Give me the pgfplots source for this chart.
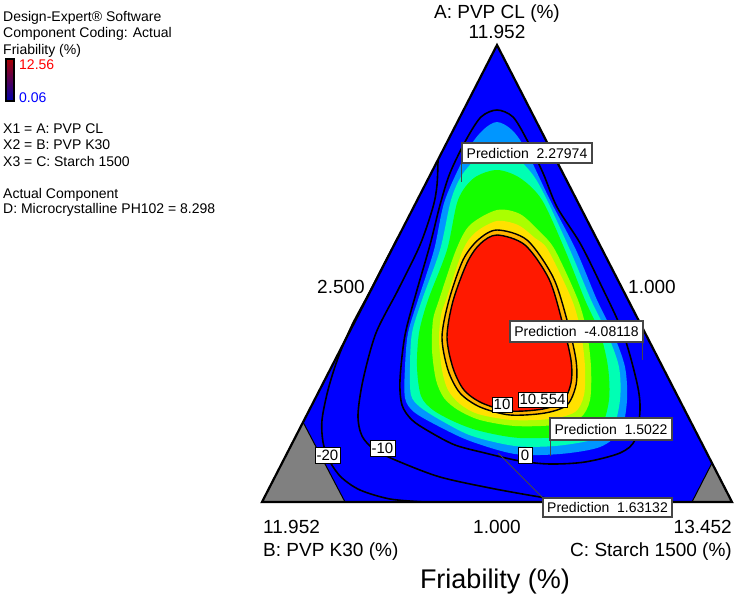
\documentclass[border=0pt]{standalone}
\usepackage{pgfplots}
\pgfplotsset{compat=1.18}
\usepackage{fontspec}
\setmainfont{Liberation Sans}

\definecolor{dxblue}{RGB}{0,0,255}
\definecolor{band1}{RGB}{0,150,255}
\definecolor{band2}{RGB}{0,255,180}
\definecolor{band3}{RGB}{20,255,0}
\definecolor{band4}{RGB}{170,255,0}
\definecolor{band5}{RGB}{255,225,0}
\definecolor{ringband}{RGB}{255,180,0}
\definecolor{core}{RGB}{255,25,0}
\definecolor{constr}{RGB}{128,128,128}
\definecolor{boxedge}{RGB}{70,70,70}
\definecolor{cbred}{RGB}{170,0,0}
\definecolor{cbgreen}{RGB}{0,200,0}
\definecolor{cbblue}{RGB}{0,0,170}

\newcommand{\sz}[1]{\fontsize{#1}{#1}\selectfont}

\begin{document}
\begin{tikzpicture}
\begin{axis}[
    width=734pt, height=597pt, scale only axis,
    xmin=0, xmax=734, ymin=0, ymax=597, y dir=reverse,
    hide axis, clip=false
]
\path (0,0) rectangle (734,597);

% design space
\addplot[fill=dxblue, draw=none] coordinates {(497,45) (732,502) (262,502)};

% colour bands, outer to inner
\addplot[fill=band1, draw=none, smooth cycle] coordinates {
    (497,122) (512,130) (526,150) (550,200) (576,250) (597,300) (613,333) (625,367)
    (627,400) (621,430) (600,447) (560,454) (515,454) (470,441) (438,426) (414,412)
    (405,398) (405,367) (408,333) (418,300) (434,250) (445,200) (468,150) (483,130)};
\addplot[fill=band2, draw=none, smooth cycle] coordinates {
    (497,148) (515,156) (533,175) (547,200) (570,250) (591,300) (607,333) (619,367)
    (620,400) (612,430) (592,440) (555,446) (515,446) (472,436) (442,421) (420,407)
    (411,395) (410,367) (412,333) (422,300) (440,250) (451,200) (462,175) (479,156)};
\addplot[fill=band3, draw=none, smooth cycle] coordinates {
    (497,170) (520,178) (542,200) (565,250) (585,300) (600,333) (608,367) (609,400)
    (600,428) (575,436) (520,438) (480,431) (455,422) (433,410) (421,396) (417,367)
    (419,333) (428,300) (447,250) (458,200) (474,178)};
\addplot[fill=band4, draw=none, smooth cycle] coordinates {
    (497,210) (520,214) (540,232) (555,250) (578,300) (587,333) (591,367) (590,400)
    (580,418) (555,425) (515,426) (480,420) (458,410) (444,398) (436,380) (432,350)
    (433,320) (439,300) (456,250) (470,225)};
\addplot[fill=band5, draw=none, smooth cycle] coordinates {
    (497,221) (518,225) (535,238) (548,250) (572,300) (581,333) (585,367) (584,395)
    (575,412) (550,419) (512,420) (478,414) (460,404) (448,390) (442,370) (439,340)
    (441,315) (446,300) (463,250) (476,232)};
% contour 10 and 10.554
\addplot[fill=ringband, draw=black, line width=1.4pt, smooth cycle] coordinates {
    (497,230) (527,240) (553,277) (567,320) (576,360) (576,385) (567,405) (545,413)
    (510,415) (480,407) (460,393) (448,370) (442,337) (449,300) (463,260) (478,240)};
\addplot[fill=core, draw=black, line width=1.4pt, smooth cycle] coordinates {
    (497,235) (525,245) (549,279) (562,321) (571,360) (571,383) (563,401) (543,409)
    (510,411) (482,403) (464,390) (453,368) (447,337) (453,301) (467,263) (480,244)};

% contour 0
\addplot[draw=black, line width=1.6pt, smooth cycle] coordinates {
    (497,110) (513,117) (527,140) (543,173) (557,207) (580,243) (600,283) (623,333)
    (637,383) (640,410) (635,440) (620,453) (585,462) (550,464) (520,461) (485,453)
    (455,445) (430,432) (412,420) (402,405) (400,380) (405,335) (417,290) (430,245)
    (440,205) (450,173) (466,140) (481,117)};
% contour -10
\addplot[draw=black, line width=1.6pt, smooth] coordinates {
    (438,160) (437,185) (433,207) (420,245) (398,290) (376,333) (363,380) (358,415)
    (362,436) (375,450) (400,462) (440,477) (490,488) (540,497) (575,502)};
% contour -20
\addplot[draw=black, line width=1.6pt, smooth] coordinates {
    (398,237) (385,262) (368,295) (352,325) (338,358) (328,390) (322,420) (323,442)
    (329,460) (341,477) (360,490) (390,499) (425,502)};

% constraint regions
\addplot[fill=constr, draw=black, line width=1pt] coordinates {(262,502) (303,422) (345,502)};
\addplot[fill=constr, draw=black, line width=1pt] coordinates {(692,502) (712,463) (732,502)};

% outline
\addplot[draw=black, line width=2.2pt, sharp cycle] coordinates {(497,45) (732,502) (262,502)};

% contour labels
\draw[fill=white, draw=black, line width=1pt] (315,447) rectangle (340,463);
\node[inner sep=0] at (327.5,455) {\sz{15}-20};
\draw[fill=white, draw=black, line width=1pt] (370,440) rectangle (395,456);
\node[inner sep=0] at (382.5,448) {\sz{15}-10};
\draw[fill=white, draw=black, line width=1pt] (518,447) rectangle (532,463);
\node[inner sep=0] at (525,455) {\sz{15}0};
\draw[fill=white, draw=black, line width=1pt] (492,397) rectangle (512,412);
\node[inner sep=0] at (502,404.5) {\sz{15}10};
\draw[fill=white, draw=black, line width=1pt] (518,392) rectangle (567,407);
\node[inner sep=0] at (542.5,399.5) {\sz{15}10.554};

% prediction flags
\draw[boxedge, line width=1pt] (461,163) -- (461,182);
\draw[fill=white, draw=boxedge, line width=2pt] (462,143) rectangle (592,163);
\node[inner sep=0] at (527,153) {\sz{14}Prediction\ \ 2.27974};

\draw[boxedge, line width=1pt] (642,342) -- (642,360);
\draw[fill=white, draw=boxedge, line width=2pt] (510,321) rectangle (643,342);
\node[inner sep=0] at (576.5,331.5) {\sz{14}Prediction\ \ -4.08118};

\draw[boxedge, line width=1pt] (550,440) -- (550,456);
\draw[fill=white, draw=boxedge, line width=2pt] (550,418) rectangle (672,440);
\node[inner sep=0] at (611,429) {\sz{14}Prediction\ \ 1.5022};

\draw[boxedge, line width=1pt] (543,498) -- (498,453);
\draw[fill=white, draw=boxedge, line width=2pt] (543,498) rectangle (672,517);
\node[inner sep=0] at (607.5,507.5) {\sz{14}Prediction\ \ 1.63132};

% vertex and axis text
\node[anchor=base, inner sep=0] at (497,19) {\sz{19}A: PVP CL (\%)};
\node[anchor=base, inner sep=0] at (497,38) {\sz{19}11.952};
\node[anchor=base, inner sep=0] at (341,293) {\sz{19}2.500};
\node[anchor=base, inner sep=0] at (652,293) {\sz{19}1.000};
\node[anchor=base west, inner sep=0] at (263,533) {\sz{19}11.952};
\node[anchor=base, inner sep=0] at (497,533) {\sz{19}1.000};
\node[anchor=base east, inner sep=0] at (732,533) {\sz{19}13.452};
\node[anchor=base west, inner sep=0] at (263,556) {\sz{19}B: PVP K30 (\%)};
\node[anchor=base east, inner sep=0] at (732,556) {\sz{19}C: Starch 1500 (\%)};
\node[anchor=base, inner sep=0] at (495,588) {\sz{27}Friability (\%)};

% info block
\node[anchor=base west, inner sep=0] at (3,21.7) {\sz{14}Design-Expert® Software};
\node[anchor=base west, inner sep=0] at (3,37.3) {\sz{14}Component Coding: Actual};
\node[anchor=base west, inner sep=0] at (3,54) {\sz{14}Friability (\%)};
\shade[top color=cbred, middle color=cbgreen, bottom color=cbblue] (6,59) rectangle (14,101);
\draw[black, line width=1.2pt] (6,59) rectangle (14,101);
\node[anchor=base west, inner sep=0, text=red] at (19,69) {\sz{14}12.56};
\node[anchor=base west, inner sep=0, text=blue] at (19,102) {\sz{14}0.06};
\node[anchor=base west, inner sep=0] at (3,133) {\sz{14}X1 = A: PVP CL};
\node[anchor=base west, inner sep=0] at (3,149) {\sz{14}X2 = B: PVP K30};
\node[anchor=base west, inner sep=0] at (3,166) {\sz{14}X3 = C: Starch 1500};
\node[anchor=base west, inner sep=0] at (3,198) {\sz{14}Actual Component};
\node[anchor=base west, inner sep=0] at (3,213) {\sz{14}D: Microcrystalline PH102 = 8.298};
\end{axis}
\end{tikzpicture}
\end{document}
